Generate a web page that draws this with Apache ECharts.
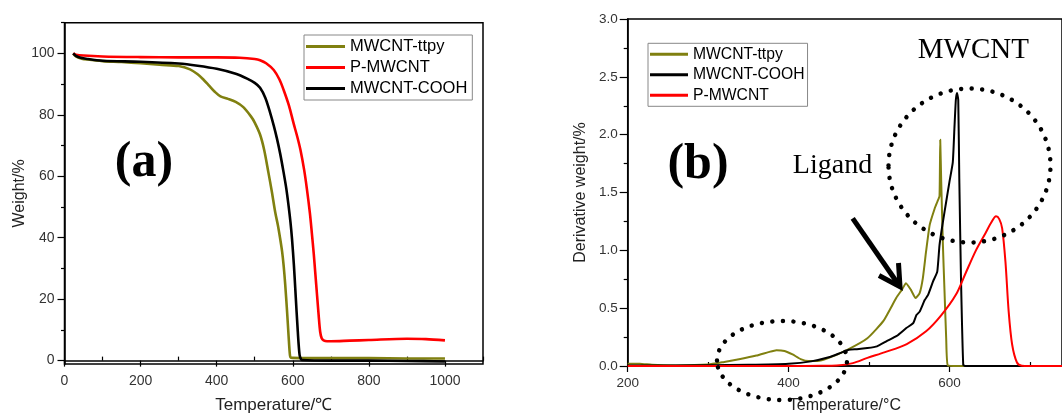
<!DOCTYPE html>
<html>
<head>
<meta charset="utf-8">
<script src="https://cdn.jsdelivr.net/npm/echarts@6/dist/echarts.min.js"></script>
<style>
  html, body { margin: 0; padding: 0; background: #fff; }
  #main { width: 1062px; height: 419px; }
</style>
</head>
<body>
<div id="main"></div>
<script>
// (a) TGA curves: temperature / weight %
const tgaTempTtpy = [23, 30, 45, 60, 100, 150, 200, 250, 300, 330, 350, 365, 380, 395, 410, 430, 450, 470, 490, 500, 514, 525, 536, 545, 554, 561, 567, 572, 576, 580, 585, 589, 592, 594, 600, 700, 800, 900, 1000]
const tgaWeightTtpy = [100, 99, 98.3, 98, 97.5, 97.2, 96.8, 96.3, 95.9, 94.8, 93.2, 91.5, 89.5, 87.5, 86, 85.2, 84.2, 82.5, 79.5, 77.5, 73.6, 68.5, 61.2, 55, 48.2, 44, 39.6, 35.5, 30.9, 25, 16, 8, 2.5, 1.1, 0.9, 0.8, 0.8, 0.7, 0.7]

const tgaTempP = [23, 30, 50, 100, 200, 300, 400, 460, 500, 514, 530, 550, 565, 576, 590, 602, 612, 620, 630, 637, 645, 650, 655, 659, 664, 668, 672, 676, 681, 690, 700, 750, 800, 900, 950, 1000]
const tgaWeightP = [100, 99.6, 99.3, 99.0, 98.8, 98.7, 98.7, 98.6, 98.2, 97.8, 96.8, 94.6, 91.5, 88.1, 83, 77.3, 72.8, 68.7, 62, 56, 48, 41.7, 35, 28.8, 21, 14.8, 9.4, 7.3, 6.6, 6.3, 6.3, 6.5, 6.7, 7.1, 7.0, 6.6]

const tgaTempCooh = [23, 30, 40, 60, 100, 200, 300, 350, 400, 450, 480, 500, 514, 528, 541, 550, 558, 567, 576, 583, 589, 594, 598, 603, 606.6, 610, 612.7, 615, 618, 621, 624, 700, 800, 900, 1000]
const tgaWeightCooh = [100, 99.2, 98.7, 98.2, 97.6, 97.3, 96.7, 96, 95, 93.4, 91.8, 90.4, 88.8, 85.5, 80.5, 76.5, 72.5, 67.3, 61.2, 56, 50.4, 45, 39.6, 31, 23.4, 16, 10.5, 6, 1.8, 0.6, 0.2, 0, 0, -0.1, -0.3]

// (b) DTG curves: temperature / derivative weight %
const dtgTempTtpy = [200, 215, 230, 260, 300, 320, 340, 360, 375, 385, 395, 405, 415, 425, 436, 450, 473, 498, 518, 534, 541, 546, 552, 558, 563, 567, 571, 575.5, 581.6, 585, 587.7, 588.6, 589.8, 591.9, 593.9, 596, 598, 610, 740]
const dtgTtpy = [0.02, 0.02, 0.01, 0.005, 0.012, 0.035, 0.06, 0.09, 0.12, 0.137, 0.13, 0.1, 0.06, 0.043, 0.043, 0.07, 0.14, 0.24, 0.39, 0.59, 0.66, 0.716, 0.66, 0.587, 0.63, 0.76, 0.99, 1.22, 1.36, 1.42, 1.47, 1.955, 1.6, 1.05, 0.65, 0.24, 0.005, 0, 0]

const dtgTempCooh = [200, 300, 350, 400, 428, 450, 465, 475, 485, 498, 510, 522, 534.5, 546.8, 555, 559, 563, 569.3, 573.5, 579.6, 584.9, 587.7, 591.9, 596, 600, 604.2, 606.2, 608, 609.5, 611, 612.3, 614.4, 617.2, 620, 740]
const dtgCooh = [0.005, 0.006, 0.01, 0.02, 0.04, 0.075, 0.114, 0.14, 0.145, 0.155, 0.17, 0.215, 0.26, 0.33, 0.37, 0.44, 0.47, 0.57, 0.615, 0.73, 0.816, 1.045, 1.245, 1.42, 1.59, 1.76, 2.05, 2.3, 2.36, 2.3, 1.62, 0.76, 0.01, 0, 0]

const dtgTempP = [200, 300, 400, 440, 460, 480, 498, 520, 547, 571, 590, 608, 620, 633, 645, 652, 658, 662, 665.6, 669.7, 673.7, 678, 684, 690, 700, 740]
const dtgP = [0, 0, 0, 0.002, 0.005, 0.025, 0.07, 0.12, 0.19, 0.3, 0.44, 0.615, 0.8, 1.0, 1.15, 1.24, 1.294, 1.27, 1.19, 0.9, 0.47, 0.186, 0.03, 0.003, 0, 0]

// ticks
const tgaXLabels = [0, 200, 400, 600, 800, 1000]
const tgaXMinor = [100, 300, 500, 700, 900, 1100]
const tgaYLabels = [0, 20, 40, 60, 80, 100]
const tgaYMinor = [10, 30, 50, 70, 90, 110]
const dtgXLabels = [200, 400, 600]
const dtgXMinor = [300, 500, 700]
const dtgYLabels = [0, 0.5, 1.0, 1.5, 2.0, 2.5, 3.0]
const dtgYMinor = [0.25, 0.75, 1.25, 1.75, 2.25, 2.75]

const OLIVE = '#808010'
const RED = '#ff0000'
const BLACK = '#000000'
const SANS = 'Liberation Sans'

var pairs = function (xs, ys) {
  return xs.map(function (x, i) { return [x, ys[i]] })
}
var plain = function (v) { return String(v) }

var mainX = function (grid, min, max, labels, name, gap, fontSize, nameSize) {
  return {
    type: 'value', gridIndex: grid, min: min, max: max, position: 'bottom',
    axisLine: { show: true, lineStyle: { color: '#000', width: 1.5 } },
    axisTick: { show: true, customValues: labels, length: 6, inside: false, lineStyle: { color: '#000', width: 1.2 } },
    axisLabel: { show: true, customValues: labels, margin: 10, color: '#333', fontSize: fontSize, fontFamily: SANS, formatter: plain },
    splitLine: { show: false },
    name: name, nameLocation: 'middle', nameGap: gap,
    nameTextStyle: { color: '#222', fontSize: nameSize, fontFamily: SANS }
  }
}
var minorX = function (grid, min, max, ticks) {
  return {
    type: 'value', gridIndex: grid, min: min, max: max, position: 'bottom',
    axisLine: { show: false },
    axisTick: { show: true, customValues: ticks, length: 4, inside: true, lineStyle: { color: '#000', width: 1.2 } },
    axisLabel: { show: false },
    splitLine: { show: false }
  }
}
var mainY = function (grid, min, max, labels, name, gap, fontSize, nameSize, fmt, tickLen) {
  return {
    type: 'value', gridIndex: grid, min: min, max: max, position: 'left',
    axisLine: { show: true, lineStyle: { color: '#000', width: 1.5 } },
    axisTick: { show: true, customValues: labels, length: tickLen, inside: false, lineStyle: { color: '#000', width: 1.2 } },
    axisLabel: { show: true, customValues: labels, margin: 10, color: '#333', fontSize: fontSize, fontFamily: SANS, formatter: fmt },
    splitLine: { show: false },
    name: name, nameLocation: 'middle', nameGap: gap,
    nameTextStyle: { color: '#222', fontSize: nameSize, fontFamily: SANS }
  }
}
var minorY = function (grid, min, max, ticks, len) {
  return {
    type: 'value', gridIndex: grid, min: min, max: max, position: 'left',
    axisLine: { show: false },
    axisTick: { show: true, customValues: ticks, length: len, inside: false, lineStyle: { color: '#000', width: 1.2 } },
    axisLabel: { show: false },
    splitLine: { show: false }
  }
}

var line = function (name, color, data, xi, yi, width, smooth) {
  return {
    name: name, type: 'line', xAxisIndex: xi, yAxisIndex: yi,
    data: data, showSymbol: false, symbol: 'none',
    smooth: smooth,
    lineStyle: { color: color, width: width, join: 'round' }, itemStyle: { color: color }
  }
}

var dotted = { fill: 'none', stroke: '#000', lineWidth: 4.5, lineDash: [0.01, 10.5], lineCap: 'round' }

var myChart = echarts.init(document.getElementById('main'), null, { renderer: 'canvas' })
var option = {
  animation: false,
  backgroundColor: '#ffffff',
  grid: [
    { left: 64.5, top: 22.7, width: 418.5, height: 343, show: true, borderColor: '#000', borderWidth: 1.5, backgroundColor: 'transparent' },
    { left: 627.7, top: 19, width: 440, height: 349.3, show: true, borderColor: '#000', borderWidth: 1.5, backgroundColor: 'transparent' }
  ],
  legend: [
    {
      orient: 'vertical', left: 304, top: 35, selectedMode: false,
      data: ['MWCNT-ttpy', 'P-MWCNT', 'MWCNT-COOH'],
      icon: 'rect', itemWidth: 39, itemHeight: 3, itemGap: 4,
      padding: [3, 5, 3, 2], borderColor: '#888', borderWidth: 1,
      textStyle: { color: '#000', fontSize: 16.5, fontFamily: SANS }
    },
    {
      orient: 'vertical', left: 648, top: 43.3, selectedMode: false,
      data: ['MWCNT-ttpy', 'MWCNT-COOH', 'P-MWCNT'],
      icon: 'rect', itemWidth: 38, itemHeight: 3, itemGap: 4.5,
      padding: [3, 3, 3, 2], borderColor: '#888', borderWidth: 1,
      textStyle: { color: '#000', fontSize: 15.7, fontFamily: SANS }
    }
  ],
  xAxis: [
    mainX(0, 0, 1100, tgaXLabels, 'Temperature/℃', 33, 14, 17),
    minorX(0, 0, 1100, tgaXMinor),
    mainX(1, 200, 740, dtgXLabels, 'Temperature/°C', 32, 13.5, 16),
    minorX(1, 200, 740, dtgXMinor)
  ],
  yAxis: [
    mainY(0, -1.1, 110, tgaYLabels, 'Weight/%', 36, 14, 16, plain, 7),
    minorY(0, -1.1, 110, tgaYMinor, 3.5),
    mainY(1, 0, 3, dtgYLabels, 'Derivative weight/%', 39, 13.5, 16, function (v) { return v.toFixed(1) }, 8),
    minorY(1, 0, 3, dtgYMinor, 4)
  ],
  series: [
    line('MWCNT-ttpy', OLIVE, pairs(tgaTempTtpy, tgaWeightTtpy), 0, 0, 2.6, 0.3),
    line('P-MWCNT', RED, pairs(tgaTempP, tgaWeightP), 0, 0, 2.6, 0.3),
    line('MWCNT-COOH', BLACK, pairs(tgaTempCooh, tgaWeightCooh), 0, 0, 2.6, 0.3),
    line('MWCNT-ttpy', OLIVE, pairs(dtgTempTtpy, dtgTtpy), 2, 2, 2, 0.15),
    line('MWCNT-COOH', BLACK, pairs(dtgTempCooh, dtgCooh), 2, 2, 2, 0.15),
    line('P-MWCNT', RED, pairs(dtgTempP, dtgP), 2, 2, 2, 0.3)
  ],
  graphic: [
    { type: 'text', x: 144, y: 163, style: { text: '(a)', font: 'bold 50px "Liberation Serif"', fill: '#000', align: 'center', verticalAlign: 'middle' } },
    { type: 'text', x: 698, y: 165, style: { text: '(b)', font: 'bold 50px "Liberation Serif"', fill: '#000', align: 'center', verticalAlign: 'middle' } },
    { type: 'text', x: 832.5, y: 166, style: { text: 'Ligand', font: '28px "Liberation Serif"', fill: '#000', align: 'center', verticalAlign: 'middle' } },
    { type: 'text', x: 973.3, y: 50.5, style: { text: 'MWCNT', font: '29px "Liberation Serif"', fill: '#000', align: 'center', verticalAlign: 'middle' } },
    { type: 'ellipse', shape: { cx: 969.5, cy: 165.5, rx: 81, ry: 77 }, style: dotted, z: 100 },
    { type: 'ellipse', shape: { cx: 782, cy: 360.5, rx: 65, ry: 39.5 }, style: dotted, z: 100 },
    { type: 'line', shape: { x1: 852.7, y1: 218.3, x2: 898.5, y2: 284.5 }, style: { stroke: '#000', lineWidth: 5 }, z: 100 },
    { type: 'polyline', shape: { points: [[879, 275.5], [900, 286.7], [898.5, 263]] }, style: { stroke: '#000', lineWidth: 5, fill: 'none', lineJoin: 'miter' }, z: 100 }
  ]
}
myChart.setOption(option)
</script>
</body>
</html>
